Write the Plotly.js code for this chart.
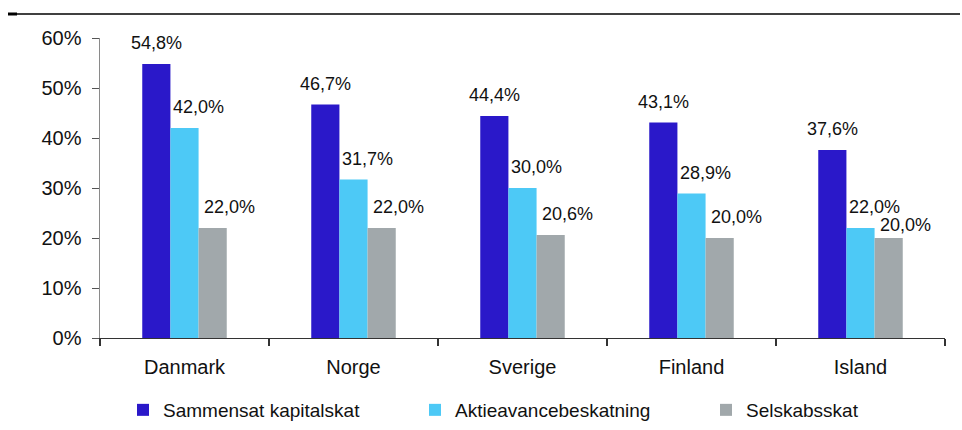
<!DOCTYPE html>
<html>
<head>
<meta charset="utf-8">
<script src="https://cdn.plot.ly/plotly-3.0.1.min.js"></script>
<style>html,body{margin:0;padding:0;background:#fff;}#chart{width:962px;height:430px;}</style>
</head>
<body>
<div id="chart"></div>
<script>
const categories = ["Danmark", "Norge", "Sverige", "Finland", "Island"];
const seriesNames = ["Sammensat kapitalskat", "Aktieavancebeskatning", "Selskabsskat"];
const sammensat = [54.8, 46.7, 44.4, 43.1, 37.6];
const aktieavance = [42.0, 31.7, 30.0, 28.9, 22.0];
const selskabsskat = [22.0, 22.0, 20.6, 20.0, 20.0];
const yTicks = [0, 10, 20, 30, 40, 50, 60];

const colors = ["#2A18C9", "#4DC9F6", "#A1A8AB"];
const allSeries = [sammensat, aktieavance, selskabsskat];
const FONT = "Liberation Sans, Arial, Helvetica, sans-serif";

const W = 962, H = 430;
const M = {l: 100, r: 17, t: 38, b: 92};
const plotH = H - M.t - M.b;
const yMax = 60;
const pxPerUnit = plotH / yMax;

const legendIds = ["legend", "legend2", "legend3"];
const legendLeftPx = [123, 415, 706];

const traces = allSeries.map((vals, i) => ({
  type: "bar",
  name: seriesNames[i],
  x: categories,
  y: vals,
  legend: legendIds[i],
  marker: {color: colors[i], line: {width: 0}},
  hoverinfo: "skip"
}));

const barW = 0.5 / 3;
const labelXShift = [0, 14, 17];
const baseYShift = 21;
const annotations = [];
categories.forEach((c, j) => {
  let prevY = null;
  allSeries.forEach((vals, i) => {
    const v = vals[j];
    let ys = baseYShift;
    if (prevY !== null) {
      const labelPx = v * pxPerUnit + ys;
      if (Math.abs(prevY - labelPx) < 18) ys = 13;
    }
    prevY = v * pxPerUnit + ys;
    annotations.push({
      xref: "x", yref: "y",
      x: j + (i - 1) * barW,
      y: v,
      text: v.toFixed(1).replace(".", ",") + "%",
      showarrow: false,
      xanchor: "center", yanchor: "middle",
      xshift: labelXShift[i],
      yshift: ys,
      font: {family: FONT, size: 18, color: "#111"}
    });
  });
});

const layout = {
  width: W, height: H,
  margin: {l: M.l, r: M.r, t: M.t, b: M.b, autoexpand: false},
  paper_bgcolor: "#fff", plot_bgcolor: "#fff",
  barmode: "group", bargap: 0.5, bargroupgap: 0,
  showlegend: true,
  xaxis: {
    type: "category",
    showgrid: false, zeroline: false,
    showline: true, linecolor: "#333", linewidth: 1.2,
    ticks: "outside", tickson: "boundaries", ticklen: 7, tickcolor: "#333", tickwidth: 1.2,
    ticklabelstandoff: 11,
    tickfont: {family: FONT, size: 20, color: "#111"},
    fixedrange: true
  },
  yaxis: {
    range: [0, yMax],
    tickvals: yTicks,
    ticktext: yTicks.map(t => t + "%"),
    showgrid: false, zeroline: false,
    showline: true, linecolor: "#8a8a8a", linewidth: 1.5,
    ticks: "outside", ticklen: 7, tickcolor: "#555", tickwidth: 1,
    ticklabelstandoff: 6,
    tickfont: {family: FONT, size: 20, color: "#111"},
    fixedrange: true
  },
  shapes: [
    {type: "line", xref: "paper", yref: "paper", x0: -92/845, x1: 860/845, y0: 1 + 24/plotH, y1: 1 + 24/plotH, line: {color: "#000", width: 1.5}},
    {type: "line", xref: "paper", yref: "paper", x0: -92/845, x1: -83/845, y0: 1 + 24/plotH, y1: 1 + 24/plotH, line: {color: "#000", width: 3}}
  ],
  annotations: annotations
};

legendIds.forEach((id, i) => {
  layout[id] = {
    orientation: "h",
    xref: "container", x: legendLeftPx[i] / W, xanchor: "left",
    yref: "container", y: 20 / H, yanchor: "middle",
    font: {family: FONT, size: 19, color: "#111"},
    bgcolor: "rgba(0,0,0,0)", borderwidth: 0,
    itemclick: false, itemdoubleclick: false
  };
});

Plotly.newPlot("chart", traces, layout, {staticPlot: true, displayModeBar: false});
</script>
</body>
</html>
